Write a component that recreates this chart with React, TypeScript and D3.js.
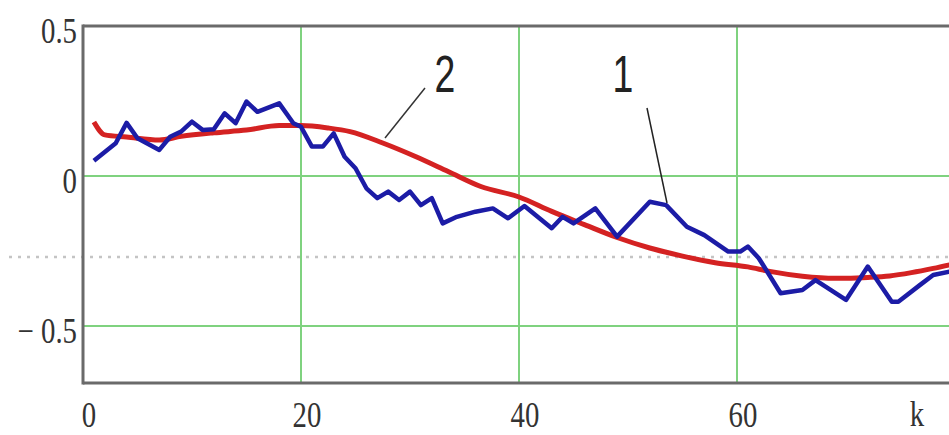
import React from "react";
import * as d3 from "d3";

// Series 1: measured signal (noisy)
const k1 = [1, 3, 4, 5, 7, 8, 9, 10, 11, 12, 13, 14, 15, 16, 18, 19.3, 20, 21, 22, 23, 24, 25, 26, 27, 28, 29, 30, 31, 32, 33, 34.3, 36, 37.6, 39, 40.5, 43, 44, 45, 47, 49, 52, 53.5, 55.4, 57, 59.2, 60.3, 61, 62, 64, 66, 67.2, 70, 72, 74.2, 74.8, 76.8, 78, 80];
const v1 = [0.051, 0.109, 0.177, 0.126, 0.087, 0.131, 0.148, 0.181, 0.153, 0.156, 0.209, 0.176, 0.248, 0.214, 0.242, 0.176, 0.164, 0.098, 0.098, 0.142, 0.064, 0.026, -0.041, -0.074, -0.052, -0.08, -0.052, -0.097, -0.074, -0.158, -0.136, -0.119, -0.108, -0.141, -0.1, -0.174, -0.136, -0.158, -0.108, -0.202, -0.086, -0.097, -0.169, -0.197, -0.252, -0.252, -0.235, -0.274, -0.391, -0.38, -0.347, -0.413, -0.302, -0.419, -0.419, -0.363, -0.33, -0.315];

// Series 2: smoothed estimate
const k2 = [1, 2, 4, 7, 9, 12, 15, 18, 20, 22.5, 24.5, 27.5, 30.5, 33.5, 36.5, 40, 43, 46, 49, 52, 55, 58, 61, 63, 66, 69, 72, 74, 76, 78, 80];
const v2 = [0.18, 0.137, 0.13, 0.12, 0.132, 0.144, 0.153, 0.168, 0.168, 0.16, 0.148, 0.11, 0.065, 0.015, -0.035, -0.07, -0.118, -0.162, -0.205, -0.24, -0.267, -0.289, -0.303, -0.318, -0.334, -0.341, -0.338, -0.333, -0.322, -0.308, -0.292];

const xTicks = [0, 20, 40, 60];
const xGrid = [20, 40, 60];
const yTicks = [0.5, 0, -0.5];
const yTickLabels = ["0.5", "0", "\u2212 0.5"];
const yGrid = [0, -0.5];
const markerLevel = -0.27;

const W = 949;
const H = 435;

const serif = "'Liberation Serif', 'Times New Roman', serif";
const sans = "'Liberation Sans', Arial, sans-serif";

export default function App() {
  const x = d3.scaleLinear().domain([0, 80]).range([83, 955]);
  const y = d3.scaleLinear().domain([-0.69, 0.5]).range([383, 26]);

  const line = d3
    .line<[number, number]>()
    .x((d) => x(d[0]))
    .y((d) => y(d[1]));
  const smooth = d3
    .line<[number, number]>()
    .x((d) => x(d[0]))
    .y((d) => y(d[1]))
    .curve(d3.curveMonotoneX);

  const s1 = k1.map((k, i) => [k, v1[i]] as [number, number]);
  const s2 = k2.map((k, i) => [k, v2[i]] as [number, number]);

  const x0 = x(0);
  const yTop = y(0.5);
  const yBot = y(-0.69);

  return (
    <svg
      width={W}
      height={H}
      style={{ position: "absolute", left: 0, top: 0, background: "#fff" }}
    >
      <defs>
        <clipPath id="plot">
          <rect x={x0} y={yTop} width={W - x0} height={yBot - yTop} />
        </clipPath>
      </defs>

      {/* grid */}
      {xGrid.map((t) => (
        <line key={"gx" + t} x1={x(t)} x2={x(t)} y1={yTop} y2={yBot} stroke="#7fd27f" strokeWidth={2} />
      ))}
      {yGrid.map((t) => (
        <line key={"gy" + t} x1={x0} x2={W} y1={y(t)} y2={y(t)} stroke="#7fd27f" strokeWidth={2} />
      ))}

      {/* marker level */}
      <line
        x1={9}
        x2={W}
        y1={y(markerLevel)}
        y2={y(markerLevel)}
        stroke="#c4c4c4"
        strokeWidth={2.5}
        strokeDasharray="3 6"
      />

      {/* frame */}
      <line x1={x0} x2={W} y1={yTop} y2={yTop} stroke="#6a6a6a" strokeWidth={3} />
      <line x1={x0} x2={W} y1={yBot} y2={yBot} stroke="#6a6a6a" strokeWidth={3} />
      <line x1={x0} x2={x0} y1={yTop - 1.5} y2={yBot + 1.5} stroke="#6a6a6a" strokeWidth={3} />

      {/* curves */}
      <g clipPath="url(#plot)">
        <path d={smooth(s2) ?? ""} fill="none" stroke="#d42222" strokeWidth={5} strokeLinejoin="round" />
        <path d={line(s1) ?? ""} fill="none" stroke="#1c1ca6" strokeWidth={4.5} strokeLinejoin="round" />
      </g>

      {/* y tick labels */}
      {yTicks.map((t, i) => (
        <text
          key={"yl" + t}
          transform={`translate(77,${y(t) + 17}) scale(0.8,1)`}
          textAnchor="end"
          fontFamily={serif}
          fontSize={36}
          fill="#333"
        >
          {yTickLabels[i]}
        </text>
      ))}

      {/* x tick labels */}
      {xTicks.map((t) => (
        <text
          key={"xl" + t}
          transform={`translate(${x(t) + 6},427) scale(0.8,1)`}
          textAnchor="middle"
          fontFamily={serif}
          fontSize={36}
          fill="#333"
        >
          {t}
        </text>
      ))}
      <text
        transform="translate(917,426) scale(0.8,1)"
        textAnchor="middle"
        fontFamily={serif}
        fontSize={36}
        fill="#333"
      >
        k
      </text>

      {/* curve labels */}
      <line x1={425} y1={88} x2={385} y2={138} stroke="#333" strokeWidth={1.5} />
      <line x1={647} y1={108} x2={667} y2={203} stroke="#222" strokeWidth={1.5} />
      <text
        transform="translate(445,92) scale(0.72,1)"
        textAnchor="middle"
        fontFamily={sans}
        fontSize={52}
        fill="#222"
      >
        2
      </text>
      <text
        transform="translate(623,92) scale(0.72,1)"
        textAnchor="middle"
        fontFamily={sans}
        fontSize={52}
        fill="#222"
      >
        1
      </text>
    </svg>
  );
}
